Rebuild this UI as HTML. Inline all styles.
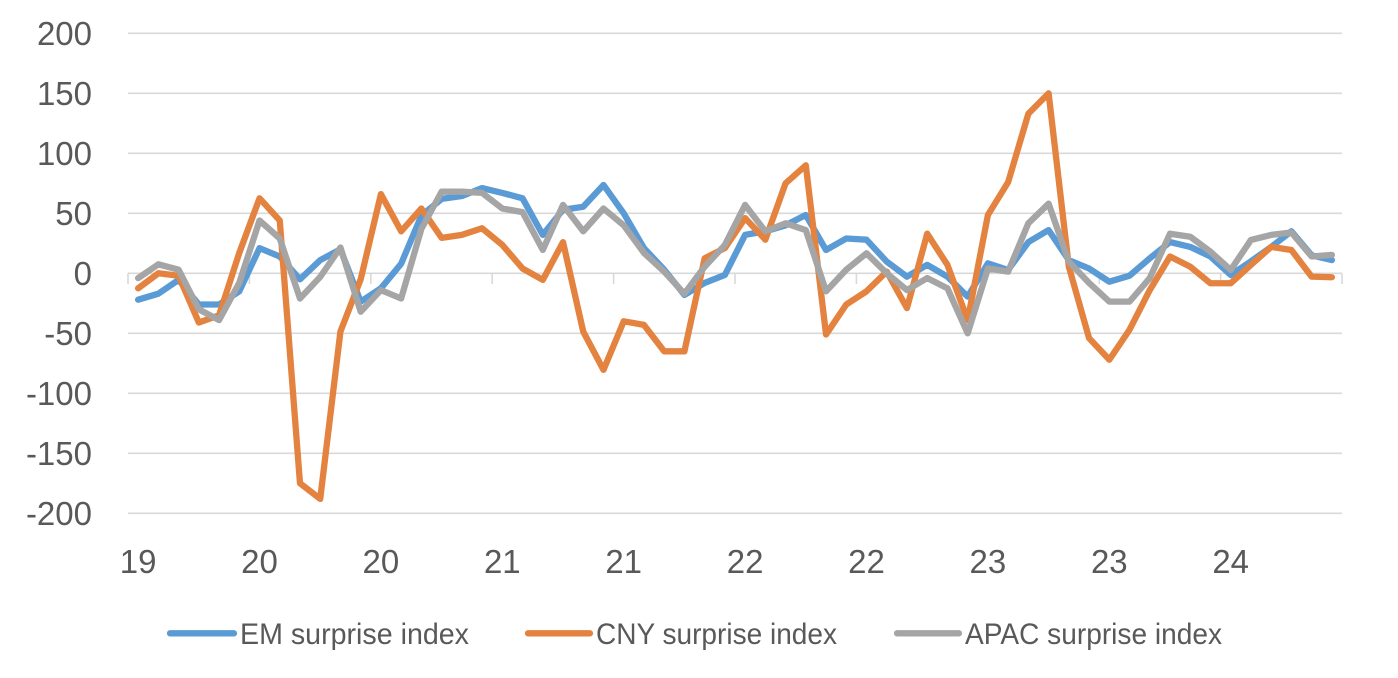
<!DOCTYPE html>
<html><head><meta charset="utf-8"><style>
html,body{margin:0;padding:0;background:#fff;}
svg{display:block;}
text{font-family:"Liberation Sans",Arial,sans-serif;fill:#595959;}
</style></head><body>
<svg width="1398" height="678" viewBox="0 0 1398 678" xmlns="http://www.w3.org/2000/svg">
<rect width="1398" height="678" fill="#fff"/>
<g stroke="#d9d9d9" stroke-width="1.6" fill="none">
<line x1="128" y1="33.3" x2="1342" y2="33.3"/>
<line x1="128" y1="93.3" x2="1342" y2="93.3"/>
<line x1="128" y1="153.3" x2="1342" y2="153.3"/>
<line x1="128" y1="213.3" x2="1342" y2="213.3"/>
<line x1="128" y1="333.3" x2="1342" y2="333.3"/>
<line x1="128" y1="393.3" x2="1342" y2="393.3"/>
<line x1="128" y1="453.3" x2="1342" y2="453.3"/>
<line x1="128" y1="513.3" x2="1342" y2="513.3"/>
<line x1="128" y1="273.3" x2="1342" y2="273.3"/>
<line x1="128" y1="273.3" x2="128" y2="284"/>
<line x1="249.4" y1="273.3" x2="249.4" y2="284"/>
<line x1="370.8" y1="273.3" x2="370.8" y2="284"/>
<line x1="492.2" y1="273.3" x2="492.2" y2="284"/>
<line x1="613.6" y1="273.3" x2="613.6" y2="284"/>
<line x1="735" y1="273.3" x2="735" y2="284"/>
<line x1="856.4" y1="273.3" x2="856.4" y2="284"/>
<line x1="977.8" y1="273.3" x2="977.8" y2="284"/>
<line x1="1099.2" y1="273.3" x2="1099.2" y2="284"/>
<line x1="1220.6" y1="273.3" x2="1220.6" y2="284"/>
<line x1="1342" y1="273.3" x2="1342" y2="284"/>
</g>
<g font-size="33" text-anchor="end">
<text x="92" y="45">200</text>
<text x="92" y="105">150</text>
<text x="92" y="165">100</text>
<text x="92" y="225">50</text>
<text x="92" y="285">0</text>
<text x="92" y="345">-50</text>
<text x="92" y="405">-100</text>
<text x="92" y="465">-150</text>
<text x="92" y="525">-200</text>
</g>
<g font-size="33" text-anchor="middle">
<text x="138.1" y="573">19</text>
<text x="259.5" y="573">20</text>
<text x="380.9" y="573">20</text>
<text x="502.3" y="573">21</text>
<text x="623.7" y="573">21</text>
<text x="745.1" y="573">22</text>
<text x="866.5" y="573">22</text>
<text x="987.9" y="573">23</text>
<text x="1109.3" y="573">23</text>
<text x="1230.7" y="573">24</text>
</g>
<g transform="translate(138.12,273.3) scale(20.233,-1.2)" fill="none" stroke-linejoin="round" stroke-linecap="round">
<polyline vector-effect="non-scaling-stroke" stroke="#5B9BD5" stroke-width="6.3" points="0,-22 1,-17 2,-5.5 3,-26 4,-26 5,-15 6,21 7,14 8,-5 9,11 10,20 11,-23.6 12,-12.5 13,8 14,48 15,62 16,64.4 17,71 18,67 19,62.5 20,32 21,53 22,55.5 23,73.6 24,50 25,21 26,3 27,-18 28,-8 29,-1.4 30,32 31,35 32,40 33,48.6 34,19.4 35,29 36,28 37,9.7 38,-2.8 39,7 40,-2.8 41,-19.4 42,8.3 43,2.8 44,26 45,36 46,11 47,4 48,-7 49,-2 50,12.5 51,26 52,22 53,14 54,-1.4 55,10 56,22 57,35 58,15 59,11"/>
<polyline vector-effect="non-scaling-stroke" stroke="#E3833F" stroke-width="6.3" points="0,-12.5 1,0 2,-2 3,-41 4,-35 5,17 6,62.5 7,44 8,-175 9,-188 10,-48.5 11,-5 12,66 13,35 14,54 15,29.5 16,32 17,37.5 18,23.6 19,4 20,-5.5 21,26 22,-48.6 23,-80.5 24,-40 25,-43 26,-65 27,-65 28,12.5 29,21 30,46 31,28 32,75 33,90 34,-51 35,-26 36,-15 37,1.4 38,-29 39,33 40,7 41,-39 42,48.6 43,76 44,133 45,150 46,5.5 47,-54 48,-72 49,-47 50,-14 51,14 52,5.5 53,-8.3 54,-8.3 55,7 56,22 57,19.4 58,-2.8 59,-3.3"/>
<polyline vector-effect="non-scaling-stroke" stroke="#A5A5A5" stroke-width="6.3" points="0,-4 1,7.5 2,3 3,-30 4,-39 5,-8 6,44 7,29 8,-21 9,-3 10,21.5 11,-32 12,-14 13,-21 14,37 15,68 16,68 17,67 18,54 19,51 20,19.5 21,57 22,35 23,54 24,40 25,17 26,1.4 27,-17 28,5.5 29,23.6 30,57 31,35 32,41.7 33,36 34,-15 35,3 36,16.7 37,0 38,-14 39,-4 40,-12.5 41,-50 42,4 43,1.4 44,41.7 45,58 46,9.7 47,-8 48,-23.6 49,-23.6 50,-4 51,33 52,30.5 53,18 54,2.8 55,27.8 56,32 57,34 58,14 59,15.3"/>
</g>
<g stroke-width="6.3" stroke-linecap="round">
<line x1="170" y1="633.3" x2="234" y2="633.3" stroke="#5B9BD5"/>
<line x1="528" y1="633.3" x2="590" y2="633.3" stroke="#E3833F"/>
<line x1="897" y1="633.3" x2="959" y2="633.3" stroke="#A5A5A5"/>
</g>
<g font-size="30">
<text x="240" y="644" textLength="229" lengthAdjust="spacingAndGlyphs">EM surprise index</text>
<text x="596" y="644" textLength="241" lengthAdjust="spacingAndGlyphs">CNY surprise index</text>
<text x="965" y="644" textLength="257" lengthAdjust="spacingAndGlyphs">APAC surprise index</text>
</g>
</svg>
</body></html>
